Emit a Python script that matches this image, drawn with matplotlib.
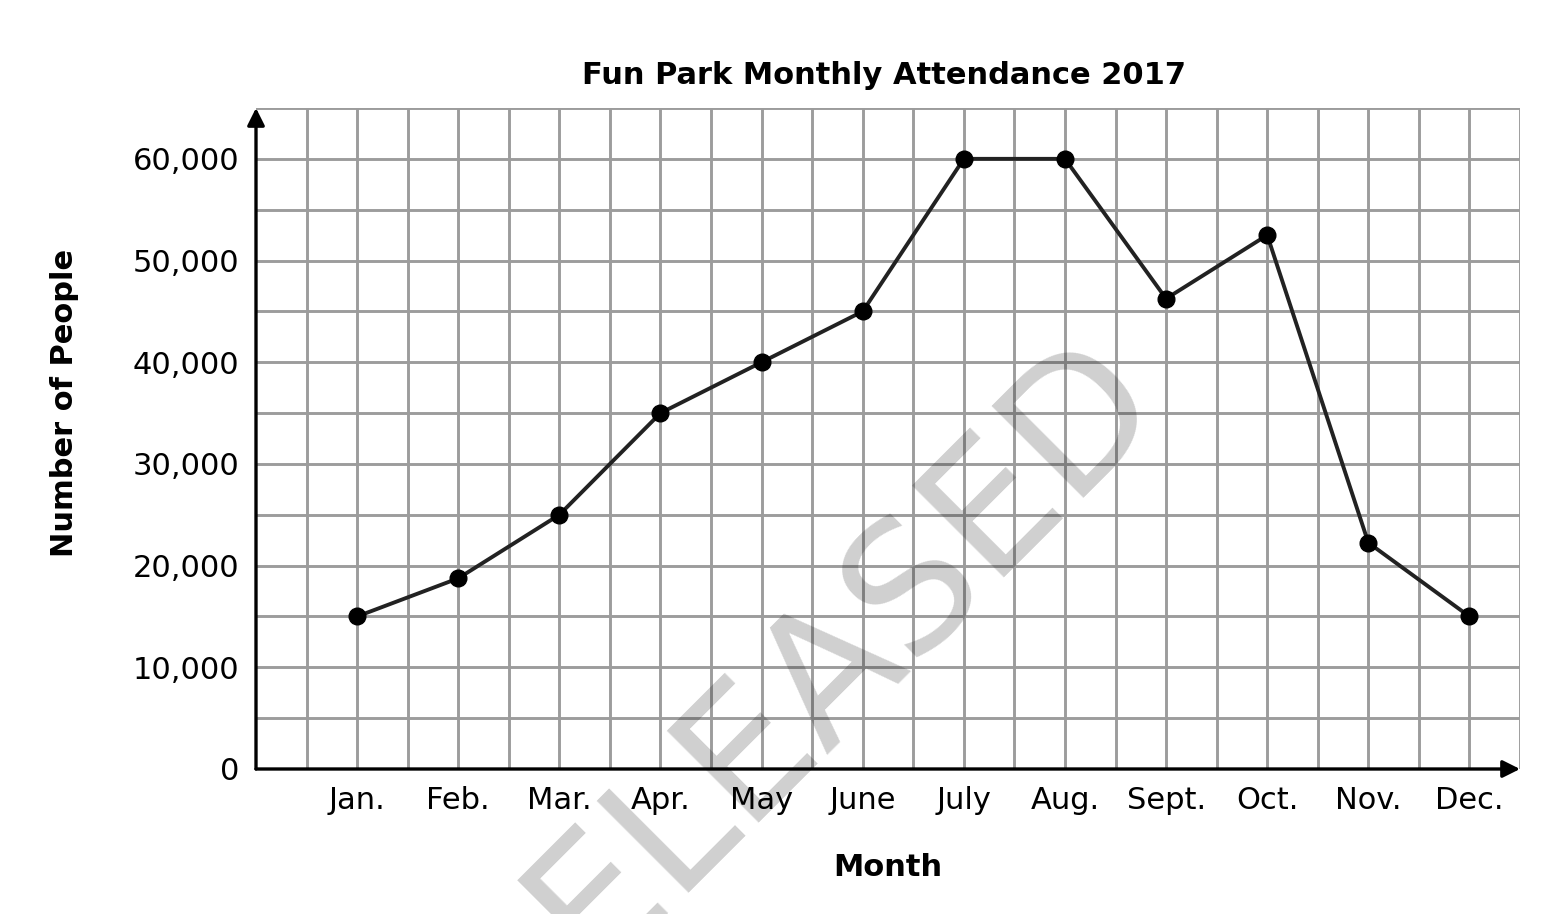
import numpy as np
import matplotlib.pyplot as plt

# Monthly attendance
months = ['Jan.', 'Feb.', 'Mar.', 'Apr.', 'May', 'June',
          'July', 'Aug.', 'Sept.', 'Oct.', 'Nov.', 'Dec.']
attendance = [15000, 18750, 25000, 35000, 40000, 45000,
              60000, 60000, 46250, 52500, 22250, 15000]
y_ticks = [0, 10000, 20000, 30000, 40000, 50000, 60000]

fig = plt.figure(figsize=(15.48, 9.14), dpi=100)
ax = fig.add_axes([256 / 1548, 1 - 769 / 914, (1520 - 256) / 1548, (769 - 108) / 914])

x = np.arange(1, len(months) + 1)
ax.set_xlim(0, 12.5)
ax.set_ylim(0, 65000)

# grid paper
for gx in np.arange(0.5, 12.51, 0.5):
    ax.axvline(gx, color='#9c9c9c', lw=2.1, zorder=1)
for gy in np.arange(5000, 65001, 5000):
    ax.axhline(gy, color='#9c9c9c', lw=2.1, zorder=1)

ax.plot(x, attendance, color='#222222', lw=2.8, marker='o',
        markersize=12, markerfacecolor='black', markeredgecolor='black', zorder=4)

for s in ax.spines.values():
    s.set_visible(False)

# axes with arrow heads
ax.annotate('', xy=(0, 1.0), xytext=(0, 0), xycoords='axes fraction',
            arrowprops=dict(arrowstyle='-|>', color='black', lw=2.4, mutation_scale=26,
                            shrinkA=0, shrinkB=0), zorder=5, annotation_clip=False)
ax.annotate('', xy=(1.0, 0), xytext=(0, 0), xycoords='axes fraction',
            arrowprops=dict(arrowstyle='-|>', color='black', lw=2.4, mutation_scale=26,
                            shrinkA=0, shrinkB=0), zorder=5, annotation_clip=False)

ax.set_xticks(x)
ax.set_xticklabels(months)
ax.set_yticks(y_ticks)
ax.set_yticklabels([f'{v:,}' for v in y_ticks])
ax.tick_params(axis='both', length=0, labelsize=22)
ax.tick_params(axis='x', pad=12)
ax.tick_params(axis='y', pad=12)

fig.text(884 / 1548, 1 - 75 / 914, 'Fun Park Monthly Attendance 2017',
         ha='center', va='center', fontsize=22, fontweight='bold')
fig.text(888 / 1548, 1 - 867 / 914, 'Month', ha='center', va='center',
         fontsize=22, fontweight='bold')
fig.text(65 / 1548, 1 - 403 / 914, 'Number of People', ha='center', va='center',
         rotation=90, fontsize=22, fontweight='bold')

# watermark
fig.text(800 / 1548, 1 - 695 / 914, 'RELEASED', ha='center', va='center',
         rotation=45, fontsize=128, color='black', alpha=0.19, zorder=10)

fig.savefig('out.png', dpi=100)
